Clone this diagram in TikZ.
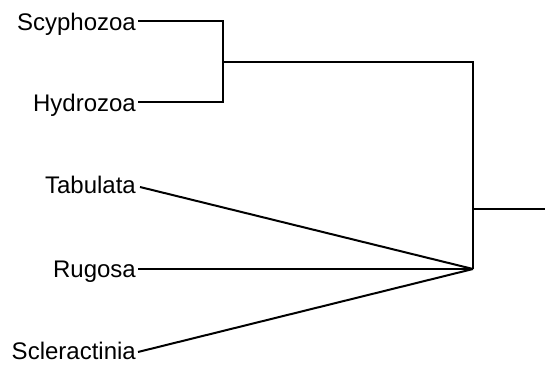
\documentclass[tikz,border=0pt]{standalone}
\usepackage{fontspec}
\setmainfont{Liberation Sans}
\begin{document}
\begin{tikzpicture}[x=1pt,y=1pt,
  taxon/.style={anchor=base east, inner sep=0pt, font=\fontsize{24}{28}\selectfont},
  branch/.style={line width=2pt, line join=miter, draw=black}]
\useasboundingbox (0,0) rectangle (545,364);
% leaf labels
\node[taxon] (scy) at (136,333.9) {Scyphozoa};
\node[taxon] (hyd) at (136,252.9) {Hydrozoa};
\node[taxon] (tab) at (136,170.4) {Tabulata};
\node[taxon] (rug) at (136,86.4) {Rugosa};
\node[taxon] (scl) at (136,4.4) {Scleractinia};
% line start points
\coordinate (scyL) at (138,342.5);
\coordinate (hydL) at (138,261.5);
\coordinate (tabL) at (140,177);
\coordinate (rugL) at (138,95);
\coordinate (sclL) at (138,12);
% internal nodes
\coordinate (j1) at (223,302);
\coordinate (j2) at (473,95);
\coordinate (r) at (473,155);
\coordinate (rootEnd) at (545,155);
% branches
\draw[branch] (scyL) -| (j1) |- (hydL);
\draw[branch] (j1) -| (j2);
\draw[branch] (tabL) -- (j2);
\draw[branch] (rugL) -- (j2);
\draw[branch] (sclL) -- (j2);
\draw[branch] (r) -- (rootEnd);
\end{tikzpicture}
\end{document}
